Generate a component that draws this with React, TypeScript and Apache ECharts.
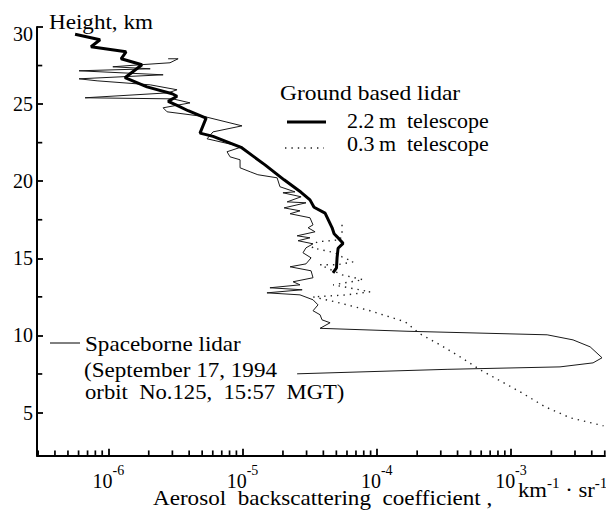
import React, { useEffect, useRef } from 'react';
import * as echarts from 'echarts';

// Axis ranges
const X_MIN = 2.94e-7;
const X_MAX = 5.02e-3;
const Y_MIN = 2.2;
const Y_MAX = 30;

const yMajorTicks = [5, 10, 15, 20, 25, 30];
const yMinorTicks = [7.5, 12.5, 17.5, 22.5, 27.5];
const xMinorTicks = [
  3e-7, 4e-7, 5e-7, 6e-7, 7e-7, 8e-7, 9e-7,
  2e-6, 3e-6, 4e-6, 5e-6, 6e-6, 7e-6, 8e-6, 9e-6,
  2e-5, 3e-5, 4e-5, 5e-5, 6e-5, 7e-5, 8e-5, 9e-5,
  2e-4, 3e-4, 4e-4, 5e-4, 6e-4, 7e-4, 8e-4, 9e-4,
  2e-3, 3e-3, 4e-3, 5e-3,
];

// Ground based lidar, 2.2 m telescope: [coefficient, height km]
const telescope22: [number, number][] = [
  [5.65e-7, 29.53], [8.67e-7, 29.17], [7.43e-7, 28.72], [1.355e-6, 28.39],
  [1.245e-6, 27.94], [1.78e-6, 27.55], [1.33e-6, 26.71], [1.94e-6, 26.12],
  [2.99e-6, 25.67], [3.25e-6, 25.51], [2.79e-6, 25.18], [3.25e-6, 24.92],
  [3.93e-6, 24.57], [5.35e-6, 24.09], [4.82e-6, 23.12], [6.03e-6, 22.91],
  [9.75e-6, 22.2], [1.47e-5, 21.06], [2.04e-5, 20.09], [2.73e-5, 19.28],
  [3.18e-5, 18.79], [3.41e-5, 18.31], [4.12e-5, 17.93], [4.65e-5, 16.98],
  [4.81e-5, 16.59], [5.24e-5, 16.26], [5.61e-5, 15.97], [5.15e-5, 15.65],
  [5.06e-5, 15.03], [5.01e-5, 14.38], [4.72e-5, 14.06],
];

// Ground based lidar, 0.3 m telescope
const telescope03: [number, number][] = [
  [5.51e-5, 17.17], [5.51e-5, 16.59], [5.33e-5, 16.2], [3.59e-5, 16.07],
  [3.3e-5, 15.68], [4.89e-5, 15.36], [5.51e-5, 15.1], [6.66e-5, 14.77],
  [5.06e-5, 14.58], [3.78e-5, 14.58], [5.51e-5, 13.93], [7.91e-5, 13.61],
  [4.73e-5, 13.28], [8.92e-5, 12.83], [6.01e-5, 12.63], [3.35e-5, 12.5],
  [4.89e-5, 12.18], [8.92e-5, 11.6], [1.63e-4, 10.88], [2.1e-4, 10.1],
  [2.96e-4, 9.39], [4.18e-4, 8.61], [5.89e-4, 7.77], [8.29e-4, 7.06],
  [1.17e-3, 6.34], [1.8e-3, 5.37], [2.76e-3, 4.66], [4.89e-3, 4.14],
];

// Spaceborne lidar (September 17, 1994, orbit No.125)
const spaceborne: [number, number][] = [
  [2.79e-6, 27.94], [3.31e-6, 27.94], [2.88e-6, 27.68], [1.72e-6, 27.55],
  [1.08e-6, 27.42], [2.05e-6, 27.29], [6.05e-7, 27.16], [2.56e-6, 26.9],
  [6.05e-7, 26.64], [8.24e-7, 26.51], [2.05e-6, 26.25], [3.25e-6, 25.93],
  [2.79e-6, 25.73], [6.71e-7, 25.41], [3.03e-6, 25.34], [4.06e-6, 25.08],
  [2.56e-6, 24.76], [2.74e-6, 24.5], [4.06e-6, 24.31], [5.26e-6, 24.18],
  [9.91e-6, 23.59], [6.03e-6, 23.2], [5.44e-6, 22.75], [9.91e-6, 22.23],
  [7.66e-6, 21.91], [8.07e-6, 21.58], [9.58e-6, 21.39], [9.58e-6, 20.87],
  [1.14e-5, 20.61], [1.3e-5, 20.42], [1.81e-5, 20.22], [1.9e-5, 19.64],
  [2.46e-5, 19.31], [2.0e-5, 19.25], [2.73e-5, 18.99], [2.15e-5, 18.66],
  [2.97e-5, 18.6], [2.04e-5, 18.27], [2.68e-5, 18.08], [2.26e-5, 17.89],
  [3.18e-5, 17.63], [3.35e-5, 17.17], [3.08e-5, 16.98], [3.47e-5, 16.72],
  [2.55e-5, 16.46], [3.18e-5, 16.33], [2.59e-5, 16.14], [3.35e-5, 15.94],
  [2.97e-5, 15.68], [2.82e-5, 15.36], [3.24e-5, 15.03], [2.97e-5, 14.64],
  [2.26e-5, 14.45], [3.24e-5, 14.19], [3.35e-5, 13.74], [2.38e-5, 13.48],
  [2.68e-5, 13.28], [1.6e-5, 13.09], [2.78e-5, 12.96], [1.52e-5, 12.76],
  [2.68e-5, 12.63], [3.35e-5, 12.31], [3.65e-5, 11.98], [3.35e-5, 11.6],
  [3.78e-5, 11.34], [3.91e-5, 11.01], [4.49e-5, 10.82], [3.78e-5, 10.46],
  [1.68e-4, 10.27], [1.86e-3, 10.04], [2.9e-3, 9.71], [3.89e-3, 9.26],
  [4.77e-3, 8.55], [4.09e-3, 8.22], [2.32e-3, 7.96], [3.34e-4, 7.8],
  [2.55e-5, 7.51],
];

const FONT = 'Liberation Serif, Times New Roman, serif';

function textEl(x: number, y: number, text: string, size = 21, sx = 1.1) {
  return {
    type: 'text',
    x,
    y,
    scaleX: sx,
    silent: true,
    style: {
      text,
      fill: '#000',
      fontSize: size,
      fontFamily: FONT,
      align: 'left',
      verticalAlign: 'middle',
      textAlign: 'left',
      textVerticalAlign: 'middle',
    },
  };
}

export default function App() {
  const ref = useRef<HTMLDivElement>(null);
  useEffect(() => {
    if (!ref.current) return;
    const chart = echarts.init(ref.current, null, { renderer: 'svg' });
    const option: any = {
      animation: false,
      backgroundColor: '#fff',
      textStyle: { fontFamily: FONT, color: '#000' },
      grid: {
        left: 37,
        right: 1,
        top: 27,
        bottom: 54.3,
        containLabel: false,
        outerBoundsMode: 'none',
      },
      xAxis: {
        type: 'log',
        logBase: 10,
        min: X_MIN,
        max: X_MAX,
        position: 'bottom',
        axisLine: { onZero: false, lineStyle: { color: '#000', width: 2 } },
        axisTick: { show: true, inside: true, length: 7, lineStyle: { color: '#000', width: 1.8 } },
        minorTick: { show: false },
        splitLine: { show: false },
        axisLabel: {
          showMinLabel: false,
          showMaxLabel: false,
          margin: 8,
          color: '#000',
          fontFamily: FONT,
          formatter: (v: number) => `{b|10}{s|${Math.round(Math.log10(v))}}`,
          rich: {
            b: { fontSize: 20, fontFamily: FONT, color: '#000', lineHeight: 22, padding: [12, 0, 0, 0] },
            s: { fontSize: 14, fontFamily: FONT, color: '#000', lineHeight: 16, verticalAlign: 'top' },
          },
        },
      },
      yAxis: {
        type: 'value',
        min: Y_MIN,
        max: Y_MAX,
        position: 'left',
        axisLine: { show: true, onZero: false, lineStyle: { color: '#000', width: 2 } },
        axisTick: {
          show: true,
          inside: true,
          length: 6,
          customValues: yMajorTicks,
          lineStyle: { color: '#000', width: 1.8 },
        },
        splitLine: { show: false },
        axisLabel: {
          customValues: yMajorTicks,
          margin: 4,
          fontSize: 20,
          fontFamily: FONT,
          color: '#000',
          formatter: (v: number) => (v === 30 ? '{t|30}' : String(v)),
          rich: {
            t: { fontSize: 20, fontFamily: FONT, color: '#000', padding: [14, 0, 0, 0] },
          },
        },
      },
      series: [
        {
          name: 'Spaceborne lidar',
          type: 'line',
          data: spaceborne,
          symbol: 'none',
          silent: true,
          lineStyle: { color: '#1a1a1a', width: 1 },
          z: 2,
        },
        {
          name: '0.3 m telescope',
          type: 'line',
          data: telescope03,
          symbol: 'none',
          silent: true,
          lineStyle: { color: '#222', width: 1.4, type: [1.4, 5] },
          z: 3,
        },
        {
          name: '2.2 m telescope',
          type: 'line',
          data: telescope22,
          symbol: 'none',
          silent: true,
          lineStyle: { color: '#000', width: 3 },
          z: 4,
        },
        {
          name: 'x minor ticks',
          type: 'scatter',
          data: xMinorTicks.map((v) => [v, Y_MIN]),
          symbol: 'rect',
          symbolSize: [1.7, 4.5],
          symbolOffset: [0, -3],
          itemStyle: { color: '#000', opacity: 1 },
          silent: true,
          clip: false,
          z: 10,
        },
        {
          name: 'y minor ticks',
          type: 'scatter',
          data: yMinorTicks.map((v) => [X_MIN, v]),
          symbol: 'rect',
          symbolSize: [4.5, 1.7],
          symbolOffset: [3, 0],
          itemStyle: { color: '#000', opacity: 1 },
          silent: true,
          clip: false,
          z: 10,
        },
      ],
      graphic: [
        textEl(49, 22, 'Height, km', 21, 1.1),
        textEl(280, 93, 'Ground based lidar', 21, 1.12),
        {
          type: 'line',
          silent: true,
          shape: { x1: 287, y1: 122, x2: 326, y2: 122 },
          style: { stroke: '#000', lineWidth: 3 },
        },
        textEl(347, 121, '2.2\u2009m  telescope', 20, 1.1),
        {
          type: 'line',
          silent: true,
          shape: { x1: 285, y1: 148, x2: 324, y2: 148 },
          style: { stroke: '#222', lineWidth: 1.4, lineDash: [1.4, 5] },
        },
        textEl(347, 144, '0.3\u2009m  telescope', 20, 1.1),
        {
          type: 'line',
          silent: true,
          shape: { x1: 50, y1: 343, x2: 80, y2: 343 },
          style: { stroke: '#000', lineWidth: 1 },
        },
        textEl(85, 343.5, 'Spaceborne lidar', 21, 1.1),
        textEl(84, 370, '(September 17, 1994', 21, 1.1),
        textEl(85, 392.5, 'orbit  No.125,  15:57  MGT)', 21, 1.08),
        textEl(153, 498, 'Aerosol  backscattering  coefficient ,', 21, 1.1),
        {
          type: 'text',
          x: 518,
          y: 471,
          scaleX: 1.08,
          silent: true,
          style: {
            text: '{n|km}{s|-1}{n| \u00b7 sr}{s|-1}',
            align: 'left',
            verticalAlign: 'top',
            textAlign: 'left',
            textVerticalAlign: 'top',
            rich: {
              n: { fontSize: 21, fontFamily: FONT, fill: '#000', color: '#000', lineHeight: 24, padding: [15, 0, 0, 0] },
              s: { fontSize: 14, fontFamily: FONT, fill: '#000', color: '#000', lineHeight: 16, verticalAlign: 'top', padding: [5, 0, 0, 0] },
            },
          },
        },
      ],
    };
    chart.setOption(option);
    return () => chart.dispose();
  }, []);
  return (
    <div
      ref={ref}
      style={{ position: 'fixed', left: 0, top: 0, width: 606, height: 510, background: '#fff' }}
    />
  );
}
